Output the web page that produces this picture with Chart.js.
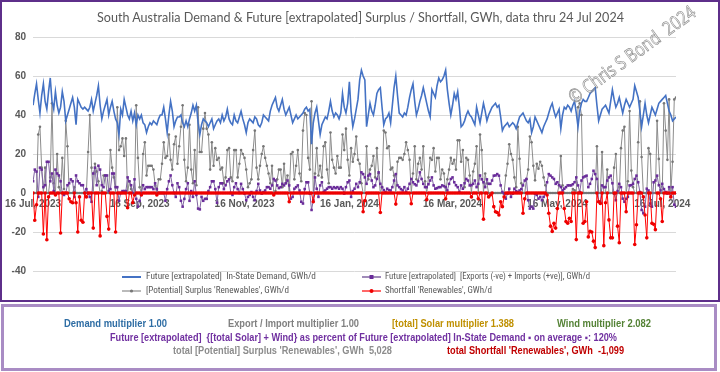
<!DOCTYPE html>
<html><head><meta charset="utf-8">
<script src="https://cdn.jsdelivr.net/npm/chart.js@4.4.1/dist/chart.umd.min.js"></script>
<style>
html,body{margin:0;padding:0;background:#fff;}
#wrap{position:relative;width:720px;height:372px;overflow:hidden;background:#fff;font-family:Lato,'Open Sans',sans-serif;}
#c{position:absolute;left:0;top:0;}
.t{position:absolute;white-space:pre;transform-origin:0 50%;line-height:1;}
.b{font-family:'Liberation Sans',Arial,sans-serif;font-weight:700;font-size:10px;}
.lg{font-family:'Liberation Sans Narrow','Roboto Condensed',Roboto,sans-serif;font-size:9px;color:#595959;}
#box1{position:absolute;left:0;top:0;width:716px;height:298px;border:2px solid #5E2F8A;pointer-events:none;}
#box2{position:absolute;left:1px;top:304px;width:710px;height:61px;border:3px solid #A98CC4;pointer-events:none;}
svg{position:absolute;}
#wm{position:absolute;left:576px;top:88px;font-family:'Open Sans',sans-serif;font-size:19px;color:rgba(255,255,255,0.2);-webkit-text-stroke:0.7px #8f8f8f;transform-origin:0 100%;white-space:pre;line-height:1;}
</style></head>
<body>
<div id="wrap">
<canvas id="c" width="720" height="302"></canvas>
<div id="box1"></div>
<div id="box2"></div>
<div class="t" id="title" data-w="527" style="left:97px;top:11px;font-size:13px;color:#595959;">South Australia Demand &amp; Future [extrapolated] Surplus / Shortfall, GWh, data thru 24 Jul 2024</div>
<div id="wm" data-w="152">© Chris S Bond  2024</div>

<svg style="left:122px;top:274px" width="20" height="6"><line x1="0" y1="3" x2="19" y2="3" stroke="#4472C4" stroke-width="2"/></svg>
<div class="t lg" data-w="170" style="left:146px;top:272px;">Future [extrapolated]  In-State Demand, GWh/d</div>
<svg style="left:362px;top:274px" width="20" height="6"><line x1="0" y1="3" x2="19" y2="3" stroke="#8064A2" stroke-width="1.5"/><rect x="7.5" y="1" width="4" height="4" fill="#6A2C9A"/></svg>
<div class="t lg" data-w="205" style="left:385px;top:272px;">Future [extrapolated]  [Exports (-ve) + Imports (+ve)], GWh/d</div>
<svg style="left:122px;top:288px" width="20" height="6"><line x1="0" y1="3" x2="19" y2="3" stroke="#8c8c8c" stroke-width="1.2"/><circle cx="9.5" cy="3" r="1.6" fill="#777"/></svg>
<div class="t lg" data-w="143" style="left:146px;top:286px;">[Potential] Surplus 'Renewables', GWh/d</div>
<svg style="left:362px;top:288px" width="20" height="6"><line x1="0" y1="3" x2="19" y2="3" stroke="#ff0000" stroke-width="1.2"/><circle cx="9.5" cy="3" r="2" fill="#ee0000"/></svg>
<div class="t lg" data-w="107" style="left:385px;top:286px;">Shortfall 'Renewables', GWh/d</div>

<div class="t b" data-w="103" style="left:64px;top:319px;color:#2E6DA4;">Demand multiplier 1.00</div>
<div class="t b" data-w="131" style="left:228px;top:319px;color:#808080;">Export / Import multiplier 1.00</div>
<div class="t b" data-w="122" style="left:392px;top:319px;color:#BF9000;">[total] Solar multiplier 1.388</div>
<div class="t b" data-w="94" style="left:557px;top:319px;color:#548235;">Wind multiplier 2.082</div>
<div class="t b" data-w="507" style="left:110px;top:333px;color:#7030A0;">Future [extrapolated]  {[total Solar] + Wind} as percent of Future [extrapolated] In-State Demand ▪ on average ▪: 120%</div>
<div class="t b" data-w="219" style="left:173px;top:346px;color:#8C8C8C;">total [Potential] Surplus 'Renewables', GWh  5,028</div>
<div class="t b" data-w="177" style="left:447px;top:346px;color:#C00000;">total Shortfall 'Renewables', GWh  -1,099</div>
</div>
<script>
// Daily values, 16 Jul 2023 .. 24 Jul 2024 (375 days)
const startDate = '16 Jul 2023';
const tickIdx = [0, 62, 123, 184, 244, 305, 366];
const tickLabels = ['16 Jul, 2023','16 Sep, 2023','16 Nov, 2023','16 Jan, 2024','16 Mar, 2024','16 May, 2024','16 Jul, 2024'];
const yTicks = [-40, -20, 0, 20, 40, 60, 80];

const demand = [
45,51,56,48,41,50,56,47,43,52,59,47,43,52,45,41,44,52,47,37,40,43,46,49,44,
35,48,46,44,43,44,43,42,44,48,42,46,50,55,45,38,42,45,48,40,44,47,42,38,36,
30,43,40,48,44,40,38,42,37,41,35,40,38,40,36,35,31,34,36,35,37,36,35,38,40,
40,44,38,31,40,47,42,34,37,39,39,40,36,34,37,34,38,41,45,42,45,36,30,35,38,
37,36,34,36,38,33,35,37,38,36,40,37,39,43,38,36,35,40,37,36,39,42,38,35,31,
36,38,37,36,39,38,35,34,36,40,39,38,37,42,45,47,49,44,42,45,48,43,40,42,44,
40,36,38,40,38,39,40,41,43,44,42,43,25,36,41,44,37,30,35,37,39,38,42,47,42,
39,41,40,38,41,51,44,41,46,57,42,34,38,43,48,58,63,60,58,34,40,46,42,40,45,
51,53,54,44,35,38,39,41,36,45,54,60,50,41,40,39,41,40,44,49,53,56,47,40,43,
47,50,54,50,46,42,39,53,51,49,55,59,57,58,60,63,53,46,40,45,51,48,52,44,34,
35,37,40,42,40,39,37,35,44,40,36,41,46,42,37,40,42,44,45,46,44,45,39,32,34,
35,36,34,35,36,35,33,36,39,40,41,39,37,36,38,31,34,39,37,35,33,31,34,36,38,
41,44,46,42,39,41,43,33,40,44,43,45,44,42,45,47,41,34,42,46,48,47,47,49,51,
52,53,54,45,37,40,43,44,45,43,41,47,53,48,44,46,49,45,41,45,48,46,44,46,48,
55,52,49,42,34,40,46,40,36,40,44,42,40,43,46,47,48,49,50,46,42,40,37,38,39
];

const exportsImports = [
6,12,11,-2,13,12,3,4,16,16,6,10,1,12,10,9,6,0,-1,0,4,5,7,6,-2,
9,6,5,4,4,0,2,0,-2,-4.5,10,13,4,14,12,4,3,9,9,1,2,10,10,3,3,
-4,0,1,1,1,8,6,4,0,7,-3,-7,-4,0,4,2,3,3,3,3,2,5,2,0,0,
0,0,-4,2,6,9,4,0,-2,5,3,-4,-7,-3,2,5,-4,1,-2,6,-1,-8,-8.4,-2,-4,
-3,-3,1,3,6,6,2,-5,3,5,5,2,4,6,7,0,-1,3,5,2,0,4.7,2,-0.3,-3.7,
-2,-1,0.5,-2,-3.7,1,4.7,1.3,-0.3,0.5,1.3,3,3,2.2,3.9,7.2,6.4,3.9,2.5,3,4.7,3.9,5,6.4,3.9,
-2.9,-2,2.2,3,3.9,1.3,-4.5,-5.4,2,5.5,5.5,-0.3,-8.7,-3.7,8,2.2,-2,3.9,5.5,0.5,1.3,2.2,3,3,2.2,
3,2.5,3,2.2,3,2.2,-0.3,3,5.5,6.4,-2,1,2.2,4.7,3,5.5,10.6,9.7,8,4.7,8.9,9.7,6.4,3,3.9,
7.2,10.6,4.7,3,1.5,0.5,2.2,1.5,1.3,3,6.4,9.7,3.9,3,2,1.3,3,0.5,2.2,4.7,7.2,5.5,4.5,3.9,6,
10.6,7.2,4.7,3,3,4.5,6.4,8,3.9,2.2,2.5,3,3,3.9,3.5,3,1.3,4.7,7.2,8,5.5,4,3,0.5,3.9,
2.2,5,7.2,6.4,3.9,4,4.7,6.4,3,4.7,9,7,5.5,3,7,4.7,4.7,6.4,8.9,9,9.7,8.9,3.9,0.5,-0.3,
-2.9,-0.3,2.2,-2,-0.3,2.2,1,0.5,1.3,2,3.9,6.4,7.2,-3.7,-8,-7,-8,-0.3,-1,-2.9,-2,-3.7,-2,-0.3,5.5,
9.7,8.9,8,7.2,4.7,5.5,4,3,1.3,2.2,3,3.9,3.9,3.9,4.5,5.5,8,3.9,0.5,6.4,8,8.5,8.9,3,4.7,
7.2,11.4,9.7,7.2,-4.5,-4.5,3.9,3,3,6.4,8,8.9,5,-0.3,-3.7,1,4.7,3,-2.9,-4.5,-3,-2,3.9,4,4.7,
7.2,8.9,5.5,0.5,-8.7,-10.4,-7,2.2,1.3,-5.4,-7,5.5,6.4,8.9,4,1.3,4.7,2,0.5,-0.3,3,-2,3,-6,-7
];

const surplus = [
0,0,0,30,34,13,0,13,0,0,8,46,5,0,20,3,0,18,2,37,24,0,0,0,3,
0,0,0,0,0,0,0,21,40,13,0,15,11,6,0,1,9,9,0,0,22,13,8,0,44,
22,24,28,19,28,0,6,2,0,0,45,18,3,0,20,26,9,14,14,14,12,4,0,7,7,
15,26,18,19,30,17,12,25,29,15,24,34,45,17,6,13,35,12,5,22,4,44,21,21,33,
41,33,30,12,26,14,23,17,18,12,13,5,8,22,23,8,6,22,22,8,15,22,20,18,12,
3,5,7,22,32,13,7,14,20,24,18,14,10,5,14,0,1,7,12,12,3,15,5,9,0,
20,21,7,14,22,10,6,32,41,40,18,12,47,0,10,23,9,14,8,24,26,12,5,31,17,
13,10,19,13,13,30,22,33,17,9,23,16,20,29,17,15,5,0,0,24,7,12,14,19,8,
23,10,0,3,32,31,23,24,12,13,9,0,16,18,18,17,20,26,22,17,0,10,24,7,15,
18,12,24,6,0,8,18,17,23,11,18,18,7,12,10,0,7,12,18,15,17,12,27,27,16,
22,3,18,17,9,0,11,15,24,0,30,22,0,10,5,0,0,0,0,0,0,0,0,0,0,
9,15,25,20,17,8,3,34,17.6,5,0,0,7,12,29,26,14,6.5,15,12.5,16,14,8,4,0,
0,0,0,0,0,0,4,19,4,0,0,0,0,0,2,1.4,0,44,46,40,0,0,0,0,0,
0,0,0,24,0,0,21,0,0,12,0,0,0,13,20,0,0,23,32,34,0,6,42,11.5,3,
0,0,26,47,18.5,0,0,0,23,20,0,0,0,37,17.5,0,0,46,32,17,48,0,16,48,49
];

const shortfall = [
0,-14,-6,0,0,0,-21,0,-24,-2,0,0,0,-1,0,0,-20.5,0,0,0,0,-3,-4.5,-5,0,
-5,-20,-2,-14,-15,0,-2,0,0,0,-18,0,0,0,-22,0,0,0,-12,-18.5,0,0,0,-20,0,
0,0,0,0,0,-7.6,0,0,-5,-1,0,0,0,-1,0,0,0,0,0,0,0,0,-1,0,0,
0,0,0,0,0,0,0,0,0,0,0,0,0,0,0,0,0,0,0,0,0,0,0,0,0,
0,0,0,0,0,0,0,0,0,0,0,0,0,0,0,0,0,0,0,0,0,0,0,0,0,
0,0,0,0,0,0,0,0,0,0,0,0,0,0,0,-1,0,0,0,0,0,0,0,0,-4.5,
0,0,0,0,0,0,0,0,0,0,0,0,0,-4.5,0,0,0,0,0,0,0,0,0,0,0,
0,0,0,0,0,0,0,0,0,0,0,0,0,0,0,0,0,-9.6,-4,0,0,0,0,0,0,
0,0,-10,0,0,0,0,0,0,0,0,-5.7,0,0,0,0,0,0,0,0,-5.5,0,0,0,0,
0,0,0,0,-3.4,0,0,0,0,0,0,0,0,0,0,-3,0,0,0,0,0,0,0,0,0,
0,0,0,0,0,-2,0,0,0,-3,0,0,-13.4,0,0,-2,-1,0,-7,-9.6,-10,-11.3,-4.5,-7,-2,
0,0,0,0,0,0,0,0,0,0,-10.4,-3,0,0,0,0,0,0,0,0,0,0,0,0,-1,
-10.4,-17,-19.7,-15.5,-18,-8,0,0,0,-8,-14.6,-15.5,-13,-14.6,0,0,-23.9,0,0,0,-15.5,-14.6,-4.5,-22.5,-19.7,
-20,-24.7,-28,0,-4.5,-5.4,0,-27,-5,0,-13.8,-23,-23,0,0,-17,-25.5,0,0,0,-9.6,0,0,0,0,
-26.4,-16.3,0,0,0,-2,-11.3,-23,0,0,-15.5,-16,-18.8,0,0,-3,-14.6,0,0,0,0,-2,0,0,0
];

const pts = arr => arr.map((v, i) => ({x: i, y: v}));
const axisFont = {family: "'Liberation Sans Narrow','Liberation Sans',Arial,sans-serif", size: 10, weight: 'bold'};

new Chart(document.getElementById('c'), {
  type: 'line',
  data: {
    datasets: [
      {label: "Shortfall 'Renewables', GWh/d", data: pts(shortfall), order: 0,
       borderColor: '#ff0000', borderWidth: 1, pointRadius: 1.8, pointBackgroundColor: '#ee0000', pointBorderWidth: 0},
      {label: 'Future [extrapolated]  In-State Demand, GWh/d', data: pts(demand), order: 1,
       borderColor: '#4472C4', borderWidth: 1.6, pointRadius: 0},
      {label: 'Future [extrapolated]  [Exports (-ve) + Imports (+ve)], GWh/d', data: pts(exportsImports), order: 2,
       borderColor: '#8064A2', borderWidth: 1, pointStyle: 'rect', pointRadius: 1.8, pointBackgroundColor: '#6A2C9A', pointBorderWidth: 0},
      {label: "[Potential] Surplus 'Renewables', GWh/d", data: pts(surplus), order: 3,
       borderColor: '#8c8c8c', borderWidth: 1, pointRadius: 1.3, pointBackgroundColor: '#767676', pointBorderWidth: 0}
    ]
  },
  options: {
    responsive: false, animation: false,
    layout: {padding: {left: 0, right: 44, top: 37, bottom: 31}},
    plugins: {legend: {display: false}, tooltip: {enabled: false}, title: {display: false}},
    elements: {line: {tension: 0}},
    scales: {
      x: {
        type: 'linear', min: 0, max: 374, position: {y: 0},
        grid: {display: false, drawTicks: false},
        border: {display: true, color: '#bfbfbf', width: 1},
        afterBuildTicks: ax => { ax.ticks = tickIdx.map(v => ({value: v})); },
        ticks: {autoSkip: false, maxRotation: 0, padding: 5, color: '#595959', font: axisFont,
                callback: (v, i) => tickLabels[i]}
      },
      y: {
        min: -40, max: 80,
        afterBuildTicks: ax => { ax.ticks = yTicks.map(v => ({value: v})); },
        afterFit: s => { s.width = 32; },
        grid: {color: '#d9d9d9', drawTicks: false, lineWidth: 1},
        border: {display: false},
        ticks: {padding: 7, color: '#595959', font: axisFont}
      }
    }
  }
});

function fitAll() {
  document.querySelectorAll('[data-w]').forEach(el => {
    el.style.transform = '';
    const w = el.getBoundingClientRect().width;
    const s = (+el.dataset.w) / w;
    if (el.id === 'wm') el.style.transform = 'rotate(-36deg) scaleX(' + s + ')';
    else el.style.transform = 'scaleX(' + s + ')';
  });
}
fitAll();
if (document.fonts && document.fonts.ready) document.fonts.ready.then(fitAll);
</script>
</body></html>
